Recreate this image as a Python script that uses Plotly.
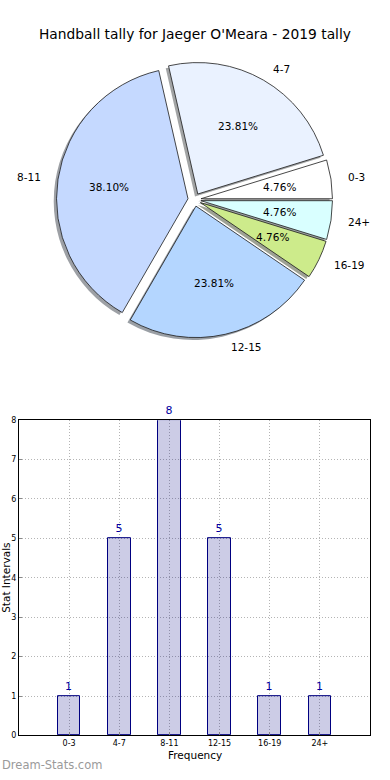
import math
import plotly.graph_objects as go

# ---- data ----
categories = ["0-3", "4-7", "8-11", "12-15", "16-19", "24+"]
counts = [1, 5, 8, 5, 1, 1]
slice_colors = ["#ffffff", "#eaf2ff", "#c5d9ff", "#b4d6ff", "#cdeb8b", "#d9ffff"]
y_ticks = [0, 1, 2, 3, 4, 5, 6, 7, 8]
title_text = "Handball tally for Jaeger O'Meara - 2019 tally"
x_title = "Frequency"
y_title = "Stat Intervals"
watermark = "Dream-Stats.com"

# ---- geometry (pixels) ----
W, H = 390, 780
CX, CY, R, PULL = 194.5, 198.0, 133.0, 0.05
HALF = R * (1 + PULL)
FONT = "DejaVu Sans"

total = sum(counts)
# first slice starts at 3 o'clock and runs counterclockwise
ROT = 90 - 360 * counts[0] / total


def dom(cx, cy):
    return dict(x=[(cx - HALF) / W, (cx + HALF) / W],
                y=[1 - (cy + HALF) / H, 1 - (cy - HALF) / H])


def shadow_color(hx):
    r, g, b = int(hx[1:3], 16), int(hx[3:5], 16), int(hx[5:7], 16)
    return f"rgba({0.3*r:.0f},{0.3*g:.0f},{0.3*b:.0f},0.5)"


fig = go.Figure()

# shadow pie
fig.add_trace(go.Pie(
    labels=categories, values=counts, sort=False, direction="counterclockwise",
    rotation=ROT, pull=[PULL] * len(counts), domain=dom(CX - 2.8, CY + 2.5),
    marker=dict(colors=[shadow_color(c) for c in slice_colors], line=dict(width=0)),
    textinfo="none", hoverinfo="skip", showlegend=False,
))

# main pie
fig.add_trace(go.Pie(
    labels=categories, values=counts, sort=False, direction="counterclockwise",
    rotation=ROT, pull=[PULL] * len(counts), domain=dom(CX, CY),
    marker=dict(colors=slice_colors, line=dict(color="#1a1a1a", width=0.8)),
    textinfo="none", showlegend=False,
))

annotations = []
cum = 0
for lab, v in zip(categories, counts):
    mid = 2 * math.pi * (cum + v / 2) / total
    cum += v
    c, s = math.cos(mid), math.sin(mid)
    ox, oy = CX + PULL * R * c, CY - PULL * R * s
    lx, ly = ox + 1.1 * R * c, oy - 1.1 * R * s
    px_, py_ = ox + 0.6 * R * c, oy - 0.6 * R * s
    annotations.append(dict(
        x=lx / W, y=1 - ly / H, xref="paper", yref="paper", text=lab,
        showarrow=False, xanchor="left" if c > 0 else "right", yanchor="middle",
        font=dict(family=FONT, size=10.5, color="#000000")))
    annotations.append(dict(
        x=px_ / W, y=1 - py_ / H, xref="paper", yref="paper",
        text=f"{100 * v / total:.2f}%",
        showarrow=False, xanchor="center", yanchor="middle",
        font=dict(family=FONT, size=10.5, color="#000000")))

# bar chart
fig.add_trace(go.Bar(
    x=categories, y=counts, width=0.45,
    marker=dict(color="rgba(0,0,128,0.2)", line=dict(color="#000080", width=1)),
    text=[str(v) for v in counts], textposition="outside", cliponaxis=False,
    textfont=dict(family=FONT, size=11, color="#0000a0"),
    showlegend=False, xaxis="x", yaxis="y",
))

AX_L, AX_R, AX_T, AX_B = 19, 370, 421, 740

annotations.append(dict(
    x=0.5, y=1 - 30 / H, xref="paper", yref="paper",
    text=title_text, showarrow=False, xanchor="center", yanchor="middle",
    font=dict(family=FONT, size=13.8, color="#000000")))
annotations.append(dict(
    x=((AX_L + AX_R) / 2) / W, y=1 - 760 / H, xref="paper", yref="paper",
    text=x_title, showarrow=False, xanchor="center", yanchor="middle",
    font=dict(family=FONT, size=10.5, color="#000000")))
annotations.append(dict(
    x=6 / W, y=1 - ((AX_T + AX_B) / 2) / H, xref="paper", yref="paper",
    text=y_title, showarrow=False, xanchor="center", yanchor="middle", textangle=-90,
    font=dict(family=FONT, size=10.5, color="#000000")))
annotations.append(dict(
    x=0, y=1 - 770 / H, xref="paper", yref="paper",
    text=watermark, showarrow=False, xanchor="left", yanchor="middle",
    font=dict(family=FONT, size=11.5, color="#9a9a9a")))

axis_common = dict(
    showgrid=True, gridcolor="#b4b4b4", griddash="1px,2px", gridwidth=1,
    showline=True, linecolor="#000000", linewidth=1, mirror=True,
    ticks="inside", ticklen=3, tickcolor="#888888",
    tickfont=dict(family=FONT, size=8, color="#000000"),
    zeroline=False, fixedrange=True,
)

fig.update_layout(
    width=W, height=H,
    margin=dict(l=0, r=0, t=0, b=0),
    paper_bgcolor="white", plot_bgcolor="white",
    annotations=annotations,
    bargap=0,
    xaxis=dict(
        domain=[AX_L / W, AX_R / W], anchor="y", type="category",
        categoryorder="array", categoryarray=categories, range=[-1, 6],
        **axis_common,
    ),
    yaxis=dict(
        domain=[1 - AX_B / H, 1 - AX_T / H], anchor="x", range=[0, 8],
        tickvals=y_ticks, **axis_common,
    ),
    font=dict(family=FONT),
)

fig.write_html("out.html", config={"displayModeBar": False},
               post_script="document.body.style.margin='0';")
